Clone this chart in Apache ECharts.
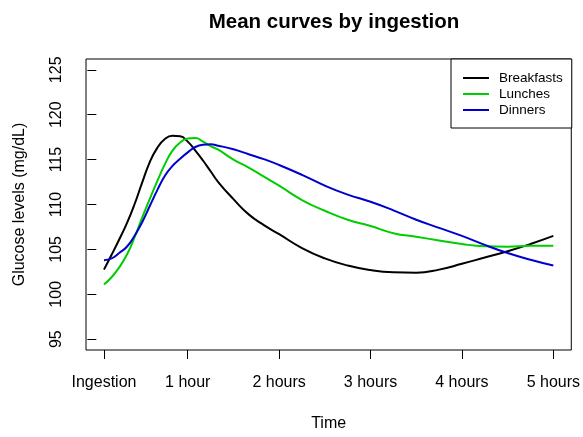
<!DOCTYPE html>
<html>
<head>
<meta charset="utf-8">
<script src="https://cdn.jsdelivr.net/npm/echarts@6/dist/echarts.min.js"></script>
<style>html,body{margin:0;padding:0;background:#fff}#c{width:583px;height:437px}</style>
</head>
<body>
<div id="c"></div>
<script>
// Time in minutes after ingestion
var minutes = [5,10,15,20,25,30,35,40,45,50,55,60,65,70,75,80,90,100,110,120,135,150,165,180,195,210,225,240,255,270,285,300];
var breakfasts = [102.75,104.4,106.1,107.9,110.0,112.4,114.7,116.3,117.3,117.65,117.6,117.0,116.0,114.9,113.7,112.5,110.6,108.9,107.7,106.7,105.15,104.0,103.2,102.7,102.45,102.4,102.75,103.4,104.1,104.8,105.6,106.5];
var lunches = [101.1,101.9,103.0,104.4,106.3,108.5,110.6,112.6,114.5,116.0,116.9,117.35,117.4,117.0,116.5,116.1,115.0,114.1,113.1,112.1,110.5,109.3,108.3,107.6,106.8,106.4,106.0,105.6,105.35,105.3,105.4,105.4];
var dinners = [103.8,104.0,104.6,105.3,106.5,108.0,109.8,111.6,113.2,114.3,115.1,115.8,116.4,116.65,116.7,116.55,116.15,115.6,115.05,114.4,113.3,112.1,111.1,110.3,109.35,108.3,107.4,106.5,105.5,104.6,103.85,103.2];
var xTickValues = [5,60,120,180,240,300];
var xTickLabels = ['Ingestion','1 hour','2 hours','3 hours','4 hours','5 hours'];
var yTickValues = [95,100,105,110,115,120,125];

function pairs(ys){ return minutes.map(function(m,i){ return [m, ys[i]]; }); }

var chart = echarts.init(document.getElementById('c'), null, {renderer:'canvas'});
var font = 'Liberation Sans, Arial, sans-serif';
chart.setOption({
  animation:false,
  backgroundColor:'#fff',
  title:{
    text:'Mean curves by ingestion',
    left:329, top:7, textAlign:'center',
    textStyle:{fontFamily:font, fontSize:20.5, fontWeight:'bold', color:'#000'}
  },
  legend:{
    orient:'vertical',
    left:451, top:59,
    padding:[11,9,10,12],
    itemGap:0,
    itemWidth:26, itemHeight:2,
    icon:'rect',
    borderColor:'#000', borderWidth:1, borderRadius:0,
    backgroundColor:'#fff',
    textStyle:{fontFamily:font, fontSize:13.5, color:'#000', lineHeight:16, padding:[0,0,0,5]},
    data:['Breakfasts','Lunches','Dinners']
  },
  grid:{left:86, right:11, top:59, bottom:81, show:true, borderColor:'#000', borderWidth:1, backgroundColor:'transparent'},
  xAxis:{
    type:'value', min:-6.8, max:311.8,
    name:'Time', nameLocation:'middle', nameGap:66,
    nameTextStyle:{fontFamily:font, fontSize:16, color:'#000'},
    axisLine:{show:false},
    axisTick:{show:true, inside:false, length:9, lineStyle:{color:'#000', width:1}, customValues:xTickValues},
    axisLabel:{fontFamily:font, fontSize:16, color:'#000', margin:25, customValues:xTickValues,
      formatter:function(v){ var i = xTickValues.indexOf(v); return i>=0 ? xTickLabels[i] : ''; }},
    splitLine:{show:false}
  },
  yAxis:{
    type:'value', min:93.8, max:126.2,
    name:'Glucose levels (mg/dL)', nameLocation:'middle', nameGap:58,
    nameTextStyle:{fontFamily:font, fontSize:16, color:'#000'},
    axisLine:{show:false},
    axisTick:{show:true, inside:false, length:9, lineStyle:{color:'#000', width:1}, customValues:yTickValues},
    axisLabel:{fontFamily:font, fontSize:16, color:'#000', rotate:90, margin:21, customValues:yTickValues},
    splitLine:{show:false}
  },
  series:[
    {name:'Breakfasts', type:'line', data:pairs(breakfasts), smooth:0.5, showSymbol:false, symbol:'none',
      lineStyle:{color:'#000000', width:2}, itemStyle:{color:'#000000'}},
    {name:'Lunches', type:'line', data:pairs(lunches), smooth:0.5, showSymbol:false, symbol:'none',
      lineStyle:{color:'#00CD00', width:2}, itemStyle:{color:'#00CD00'}},
    {name:'Dinners', type:'line', data:pairs(dinners), smooth:0.5, showSymbol:false, symbol:'none',
      lineStyle:{color:'#0000CD', width:2}, itemStyle:{color:'#0000CD'}}
  ]
});
</script>
</body>
</html>
